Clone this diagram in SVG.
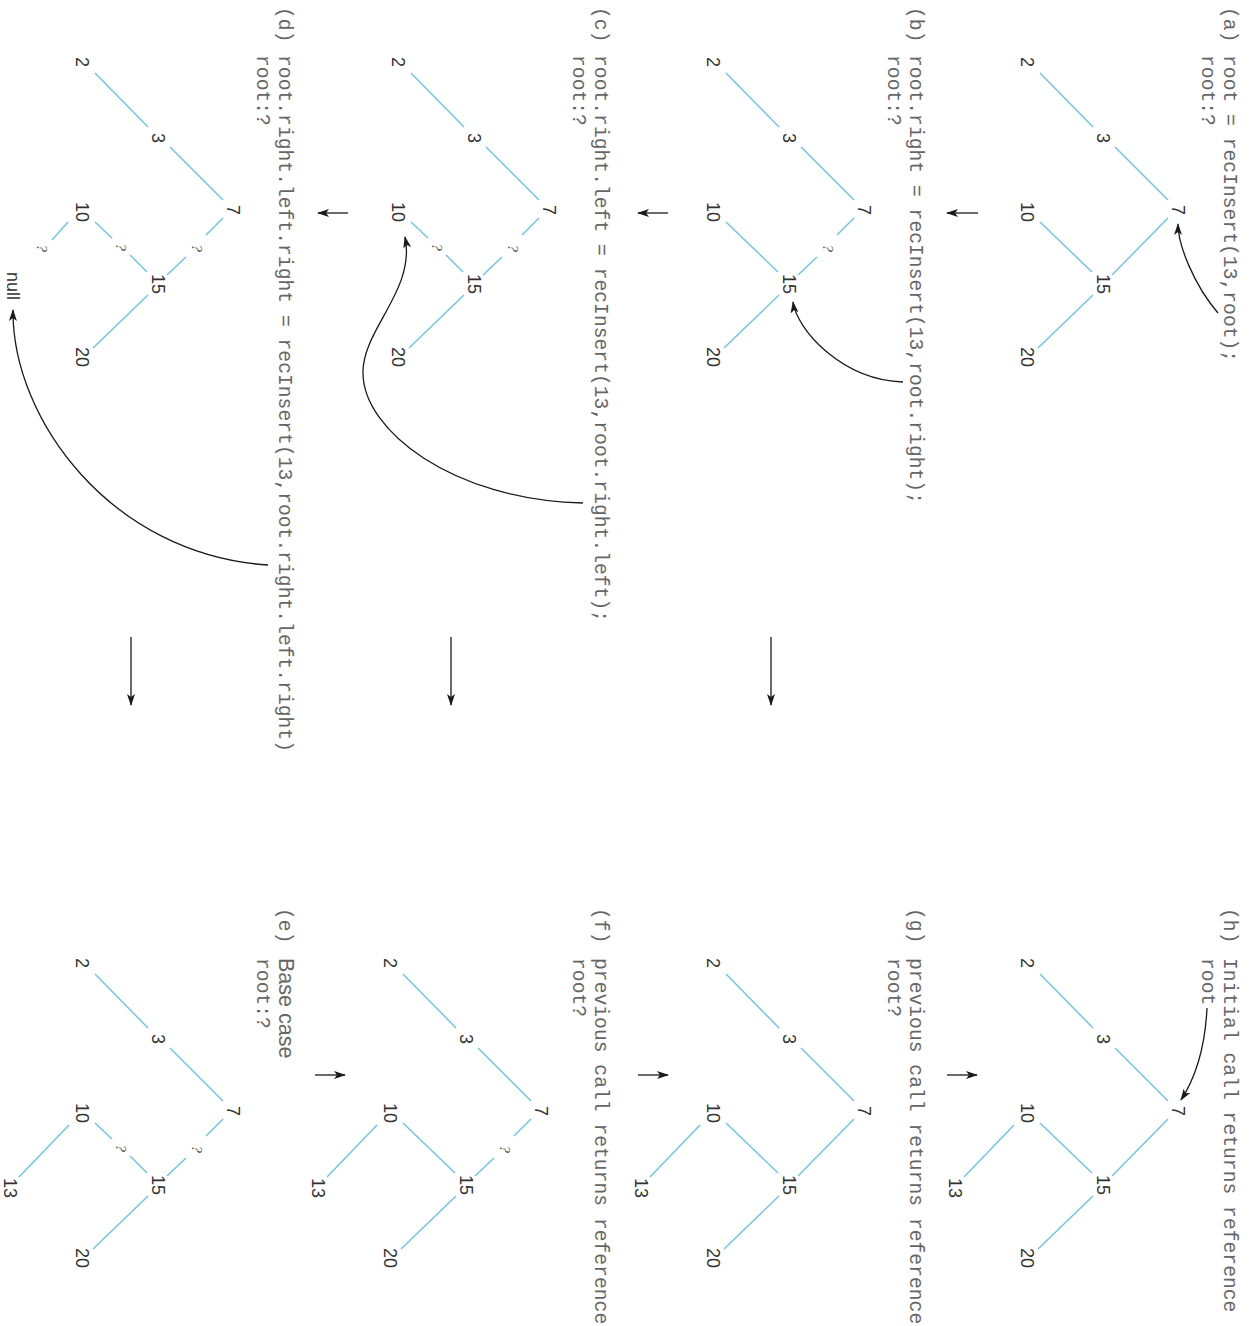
<svg xmlns="http://www.w3.org/2000/svg" width="1252" height="1326" viewBox="0 0 1252 1326">
<style>
.code{font-family:"Liberation Mono","DejaVu Sans Mono",monospace;font-size:19.7px;fill:#666}
.sans{font-family:"Liberation Sans",Arial,sans-serif;font-size:21.5px;fill:#666}
.num{font-family:"Liberation Sans",Arial,sans-serif;font-size:18px;fill:#333;text-anchor:middle}
.q{font-family:"Liberation Serif","Times New Roman",serif;font-style:italic;font-size:15.5px;fill:#555;text-anchor:middle}
.edges line{stroke:#6cc3ec;stroke-width:1.4;fill:none}
.arr{stroke:#1a1a1a;stroke-width:1.3;fill:none;marker-end:url(#ah)}
</style>
<defs>
<marker id="ah" viewBox="0 0 12 8" refX="11" refY="4" markerWidth="12" markerHeight="8" markerUnits="userSpaceOnUse" orient="auto">
<path d="M0,0 L12,4 L0,8 L3,4 z" fill="#1a1a1a"/>
</marker>
</defs>
<rect x="0" y="0" width="1252" height="1326" fill="#fff"/>
<g transform="translate(1252,0) rotate(90)">

<!-- Panel (a) -->
<g id="panel-a">
<text class="code" x="7" y="28">(a)</text>
<text class="code" x="55" y="28">root = recInsert(13,root);</text>
<text class="code" x="55" y="50">root:?</text>
<g id="a-connectors">
<g class="edges">
<line x1="73" y1="212" x2="127" y2="159"/>
<line x1="147" y1="137" x2="200" y2="84"/>
<line x1="218" y1="84" x2="275" y2="140"/>
<line x1="222" y1="212" x2="272" y2="160"/>
<line x1="295" y1="159" x2="348" y2="214"/>
</g>
<path class="arr" d="M313,34 C285,58 245,74 224,74"/>
</g>
<g id="a-n2"><text class="num" x="62" y="231.5">2</text></g>
<g id="a-n3"><text class="num" x="138" y="155.5">3</text></g>
<g id="a-n7"><text class="num" x="210" y="80.5">7</text></g>
<g id="a-n10"><text class="num" x="212" y="231.5">10</text></g>
<g id="a-n15"><text class="num" x="284" y="155.5">15</text></g>
<g id="a-n20"><text class="num" x="357" y="231.5">20</text></g>
</g>

<!-- Panel (b) -->
<g id="panel-b" transform="translate(0,314)">
<text class="code" x="7" y="28">(b)</text>
<text class="code" x="55" y="28">root.right = recInsert(13,root.right);</text>
<text class="code" x="55" y="50">root:?</text>
<g id="b-connectors">
<g class="edges">
<line x1="73" y1="212" x2="127" y2="159"/>
<line x1="147" y1="137" x2="200" y2="84"/>
<line x1="218" y1="84" x2="235" y2="101"/>
<line x1="257" y1="121" x2="275" y2="140"/>
<line x1="222" y1="212" x2="272" y2="160"/>
<line x1="295" y1="159" x2="348" y2="214"/>
</g>
<path class="arr" d="M382,35 C380,96 330,141 302,145"/>
</g>
<text class="q" x="248" y="115">?</text>
<g id="b-n2"><text class="num" x="62" y="231.5">2</text></g>
<g id="b-n3"><text class="num" x="138" y="155.5">3</text></g>
<g id="b-n7"><text class="num" x="210" y="80.5">7</text></g>
<g id="b-n10"><text class="num" x="212" y="231.5">10</text></g>
<g id="b-n15"><text class="num" x="284" y="155.5">15</text></g>
<g id="b-n20"><text class="num" x="357" y="231.5">20</text></g>
</g>

<!-- Panel (c) -->
<g id="panel-c" transform="translate(0,629)">
<text class="code" x="7" y="28">(c)</text>
<text class="code" x="55" y="28">root.right.left = recInsert(13,root.right.left);</text>
<text class="code" x="55" y="50">root:?</text>
<g id="c-connectors">
<g class="edges">
<line x1="73" y1="212" x2="127" y2="159"/>
<line x1="147" y1="137" x2="200" y2="84"/>
<line x1="218" y1="84" x2="235" y2="101"/>
<line x1="257" y1="121" x2="275" y2="140"/>
<line x1="222" y1="212" x2="238" y2="195"/>
<line x1="255" y1="177" x2="272" y2="160"/>
<line x1="295" y1="159" x2="348" y2="214"/>
</g>
<path class="arr" d="M503,40 C500,171 430,260 373,260 C330,261 290,207 237,218"/>
</g>
<text class="q" x="248" y="115">?</text>
<text class="q" x="247" y="191">?</text>
<g id="c-n2"><text class="num" x="62" y="231.5">2</text></g>
<g id="c-n3"><text class="num" x="138" y="155.5">3</text></g>
<g id="c-n7"><text class="num" x="210" y="80.5">7</text></g>
<g id="c-n10"><text class="num" x="212" y="231.5">10</text></g>
<g id="c-n15"><text class="num" x="284" y="155.5">15</text></g>
<g id="c-n20"><text class="num" x="357" y="231.5">20</text></g>
</g>

<!-- Panel (d) -->
<g id="panel-d" transform="translate(0,945)">
<text class="code" x="7" y="28">(d)</text>
<text class="code" x="55" y="28">root.right.left.right = recInsert(13,root.right.left.right)</text>
<text class="code" x="55" y="50">root:?</text>
<g id="d-connectors">
<g class="edges">
<line x1="73" y1="212" x2="127" y2="159"/>
<line x1="147" y1="137" x2="200" y2="84"/>
<line x1="218" y1="84" x2="235" y2="101"/>
<line x1="257" y1="121" x2="275" y2="140"/>
<line x1="222" y1="212" x2="238" y2="195"/>
<line x1="255" y1="177" x2="272" y2="160"/>
<line x1="295" y1="159" x2="348" y2="214"/>
<line x1="222" y1="239" x2="240" y2="255"/>
</g>
<path class="arr" d="M565,39 C555,195 420,295 310,294"/>
</g>
<text class="q" x="248" y="115">?</text>
<text class="q" x="247" y="191">?</text>
<text class="q" x="248" y="270">?</text>
<g id="d-n2"><text class="num" x="62" y="231.5">2</text></g>
<g id="d-n3"><text class="num" x="138" y="155.5">3</text></g>
<g id="d-n7"><text class="num" x="210" y="80.5">7</text></g>
<g id="d-n10"><text class="num" x="212" y="231.5">10</text></g>
<g id="d-n15"><text class="num" x="284" y="155.5">15</text></g>
<g id="d-n20"><text class="num" x="357" y="231.5">20</text></g>
<g id="d-null"><text class="num" x="272" y="300" style="text-anchor:start">null</text></g>
</g>

<!-- Panel (h) -->
<g id="panel-h" transform="translate(901,0)">
<text class="code" x="7" y="28">(h)</text>
<text class="code" x="57" y="28">Initial call returns reference</text>
<text class="code" x="57" y="50">root</text>
<g id="h-connectors">
<g class="edges">
<line x1="73" y1="212" x2="127" y2="159"/>
<line x1="147" y1="137" x2="200" y2="84"/>
<line x1="218" y1="84" x2="275" y2="140"/>
<line x1="222" y1="212" x2="272" y2="160"/>
<line x1="295" y1="159" x2="348" y2="214"/>
<line x1="224" y1="238" x2="276" y2="288"/>
</g>
<path class="arr" d="M107,45 C149,47 179,58 199,71"/>
</g>
<g id="h-n2"><text class="num" x="62" y="231.5">2</text></g>
<g id="h-n3"><text class="num" x="138" y="155.5">3</text></g>
<g id="h-n7"><text class="num" x="210" y="80.5">7</text></g>
<g id="h-n10"><text class="num" x="212" y="231.5">10</text></g>
<g id="h-n15"><text class="num" x="284" y="155.5">15</text></g>
<g id="h-n20"><text class="num" x="357" y="231.5">20</text></g>
<g id="h-n13"><text class="num" x="287" y="303.5">13</text></g>
</g>

<!-- Panel (g) -->
<g id="panel-g" transform="translate(901,314)">
<text class="code" x="7" y="28">(g)</text>
<text class="code" x="57" y="28">previous call returns reference</text>
<text class="code" x="57" y="50">root?</text>
<g id="g-connectors">
<g class="edges">
<line x1="73" y1="212" x2="127" y2="159"/>
<line x1="147" y1="137" x2="200" y2="84"/>
<line x1="218" y1="84" x2="275" y2="140"/>
<line x1="222" y1="212" x2="272" y2="160"/>
<line x1="295" y1="159" x2="348" y2="214"/>
<line x1="224" y1="238" x2="276" y2="288"/>
</g>
</g>
<g id="g-n2"><text class="num" x="62" y="231.5">2</text></g>
<g id="g-n3"><text class="num" x="138" y="155.5">3</text></g>
<g id="g-n7"><text class="num" x="210" y="80.5">7</text></g>
<g id="g-n10"><text class="num" x="212" y="231.5">10</text></g>
<g id="g-n15"><text class="num" x="284" y="155.5">15</text></g>
<g id="g-n20"><text class="num" x="357" y="231.5">20</text></g>
<g id="g-n13"><text class="num" x="287" y="303.5">13</text></g>
</g>

<!-- Panel (f) -->
<g id="panel-f" transform="translate(901,629)">
<text class="code" x="7" y="28">(f)</text>
<text class="code" x="57" y="28">previous call returns reference</text>
<text class="code" x="57" y="50">root?</text>
<g transform="translate(0,8)">
<g id="f-connectors">
<g class="edges">
<line x1="73" y1="212" x2="127" y2="159"/>
<line x1="147" y1="137" x2="200" y2="84"/>
<line x1="218" y1="84" x2="235" y2="101"/>
<line x1="257" y1="121" x2="275" y2="140"/>
<line x1="222" y1="212" x2="272" y2="160"/>
<line x1="295" y1="159" x2="348" y2="214"/>
<line x1="224" y1="238" x2="276" y2="288"/>
</g>
</g>
<text class="q" x="248" y="115">?</text>
<g id="f-n2"><text class="num" x="62" y="231.5">2</text></g>
<g id="f-n3"><text class="num" x="138" y="155.5">3</text></g>
<g id="f-n7"><text class="num" x="210" y="80.5">7</text></g>
<g id="f-n10"><text class="num" x="212" y="231.5">10</text></g>
<g id="f-n15"><text class="num" x="284" y="155.5">15</text></g>
<g id="f-n20"><text class="num" x="357" y="231.5">20</text></g>
<g id="f-n13"><text class="num" x="287" y="303.5">13</text></g>
</g>
</g>

<!-- Panel (e) -->
<g id="panel-e" transform="translate(901,945)">
<text class="code" x="7" y="28">(e)</text>
<text class="sans" x="57" y="28">Base case</text>
<text class="code" x="57" y="50">root:?</text>
<g id="e-connectors">
<g class="edges">
<line x1="73" y1="212" x2="127" y2="159"/>
<line x1="147" y1="137" x2="200" y2="84"/>
<line x1="218" y1="84" x2="235" y2="101"/>
<line x1="257" y1="121" x2="275" y2="140"/>
<line x1="222" y1="212" x2="238" y2="195"/>
<line x1="255" y1="177" x2="272" y2="160"/>
<line x1="295" y1="159" x2="348" y2="214"/>
<line x1="224" y1="238" x2="276" y2="288"/>
</g>
</g>
<text class="q" x="248" y="115">?</text>
<text class="q" x="247" y="191">?</text>
<g id="e-n2"><text class="num" x="62" y="231.5">2</text></g>
<g id="e-n3"><text class="num" x="138" y="155.5">3</text></g>
<g id="e-n7"><text class="num" x="210" y="80.5">7</text></g>
<g id="e-n10"><text class="num" x="212" y="231.5">10</text></g>
<g id="e-n15"><text class="num" x="284" y="155.5">15</text></g>
<g id="e-n20"><text class="num" x="357" y="231.5">20</text></g>
<g id="e-n13"><text class="num" x="287" y="303.5">13</text></g>
</g>

<!-- Flow arrows between panels -->
<g id="flow-connectors">
<path class="arr" d="M213,274 L213,305"/>
<path class="arr" d="M213,584 L213,614"/>
<path class="arr" d="M213,904 L213,934"/>
<path class="arr" d="M637,481 L705,481"/>
<path class="arr" d="M637,801 L705,801"/>
<path class="arr" d="M637,1121 L705,1121"/>
<path class="arr" d="M1075,937 L1075,907"/>
<path class="arr" d="M1075,614 L1075,584"/>
<path class="arr" d="M1075,305 L1075,275"/>
</g>

</g>
</svg>
